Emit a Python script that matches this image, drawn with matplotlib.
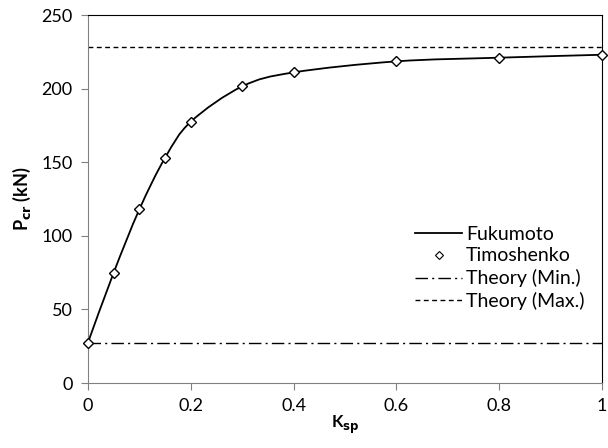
import matplotlib
matplotlib.use("Agg")
import matplotlib.pyplot as plt
from matplotlib.path import Path
from matplotlib.patches import PathPatch
from matplotlib.lines import Line2D

plt.rcParams['font.family'] = ['Lato', 'DejaVu Sans']

ksp = [0, 0.05, 0.1, 0.15, 0.2, 0.3, 0.4, 0.6, 0.8, 1.0]
fukumoto = [27.5, 75, 118, 153, 177.5, 201.5, 211, 218.5, 221, 223]
timoshenko = [27.5, 75, 118.5, 153, 177.5, 201.5, 211, 218.5, 221, 222.5]
theoryMin = 27.5
theoryMax = 228


def smoothPath(xs, ys):
    # Excel-style smoothed line: cubic bezier through the points
    pts = list(zip(xs, ys))
    verts = [pts[0]]
    codes = [Path.MOVETO]
    n = len(pts)
    for i in range(n - 1):
        p0 = pts[max(i - 1, 0)]
        p1 = pts[i]
        p2 = pts[i + 1]
        p3 = pts[min(i + 2, n - 1)]
        c1 = (p1[0] + (p2[0] - p0[0]) / 6, p1[1] + (p2[1] - p0[1]) / 6)
        c2 = (p2[0] - (p3[0] - p1[0]) / 6, p2[1] - (p3[1] - p1[1]) / 6)
        verts += [c1, c2, p2]
        codes += [Path.CURVE4] * 3
    return Path(verts, codes)


fig = plt.figure(figsize=(6.08, 4.48), dpi=100)
ax = fig.add_axes([88 / 608, 65 / 448, 514 / 608, 368 / 448])

ax.add_patch(PathPatch(smoothPath(ksp, fukumoto), fill=False, edgecolor="black", lw=1.3, zorder=3))
ax.plot(ksp, timoshenko, ls="none", marker="D", ms=5.5, mfc="white", mec="black",
        mew=1.0, zorder=4, clip_on=False)
ax.axhline(theoryMin, color="black", lw=1.0, ls=(0, (9, 3, 1.5, 3)))
ax.axhline(theoryMax, color="black", lw=1.0, ls=(0, (3.5, 2.5)))

ax.set_xlim(0, 1)
ax.set_ylim(0, 250)
ax.set_xticks([0, 0.2, 0.4, 0.6, 0.8, 1])
ax.set_xticklabels(["0", "0.2", "0.4", "0.6", "0.8", "1"])
ax.set_yticks([0, 50, 100, 150, 200, 250])
ax.tick_params(labelsize=13, direction="out", length=5, color="#808080", pad=6)
for s in ["left", "bottom"]:
    ax.spines[s].set_color("#808080")
for s in ["top", "right"]:
    ax.spines[s].set_color("black")
    ax.spines[s].set_linewidth(0.8)

ax.set_xlabel("K$_{\\mathbf{sp}}$", fontsize=12, fontweight="bold", labelpad=0)
ax.set_ylabel("P$_{\\mathbf{cr}}$ (kN)", fontsize=13, fontweight="bold", labelpad=6)

handles = [
    Line2D([], [], color="black", lw=1.3),
    Line2D([], [], ls="none", marker="D", ms=4.5, mfc="white", mec="black", mew=0.8),
    Line2D([], [], color="black", lw=1.0, ls=(0, (9, 3, 1.5, 3))),
    Line2D([], [], color="black", lw=1.0, ls=(0, (3.5, 2.5))),
]
labels = ["Fukumoto", "Timoshenko", "Theory (Min.)", "Theory (Max.)"]
ax.legend(handles, labels, loc="lower right", bbox_to_anchor=(1.0, 0.15), frameon=False,
          fontsize=14, handlelength=2.4, handletextpad=0.2, labelspacing=0.25)

fig.savefig("out.png", dpi=100)
